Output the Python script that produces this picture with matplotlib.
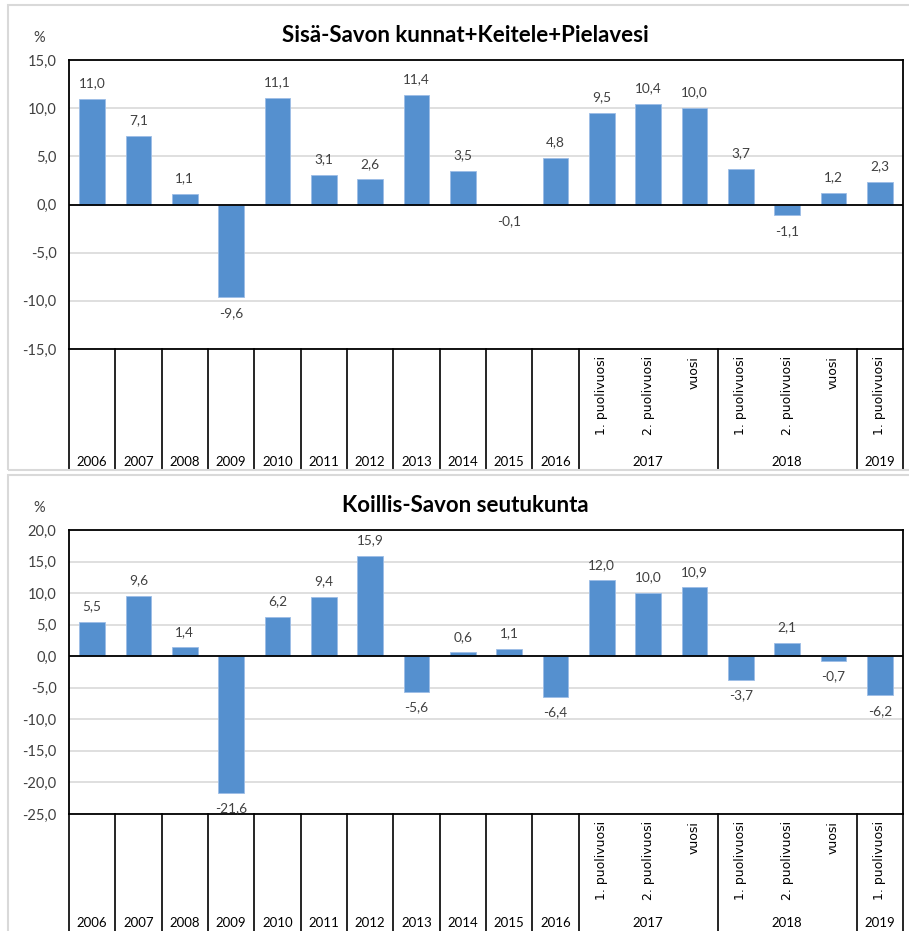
import matplotlib.pyplot as plt
from matplotlib.patches import Rectangle
from matplotlib.ticker import FuncFormatter

# categories
years = ["2006", "2007", "2008", "2009", "2010", "2011", "2012", "2013",
         "2014", "2015", "2016"]
sub_labels = ["1. puolivuosi", "2. puolivuosi", "vuosi",
              "1. puolivuosi", "2. puolivuosi", "vuosi",
              "1. puolivuosi"]
groups = ["2017", "2018", "2019"]
group_sizes = [3, 3, 1]

# series values (%)
sisa_savo = [11.0, 7.1, 1.1, -9.6, 11.1, 3.1, 2.6, 11.4, 3.5, -0.1, 4.8,
             9.5, 10.4, 10.0, 3.7, -1.1, 1.2, 2.3]
koillis_savo = [5.5, 9.6, 1.4, -21.6, 6.2, 9.4, 15.9, -5.6, 0.6, 1.1, -6.4,
                12.0, 10.0, 10.9, -3.7, 2.1, -0.7, -6.2]

W, H = 909, 931
BAR = "#5590CF"
TXT = "#404040"
plt.rcParams['font.family'] = ['Lato', 'DejaVu Sans']

fig = plt.figure(figsize=(W / 100, H / 100), dpi=100)


def rect(x0, y0, x1, y1):
    # pixel box (top-left origin) -> figure fraction
    return [x0 / W, 1 - y1 / H, (x1 - x0) / W, (y1 - y0) / H]


def comma(v, pos=None):
    return f"{v:.1f}".replace(".", ",")


def draw_panel(values, title, ymin, ymax, box, plot_top, plot_bot, cat_bot):
    # light grey frame around the whole chart
    fig.patches.append(Rectangle((box[0] / W, 1 - box[3] / H),
                                 (box[2] - box[0]) / W, (box[3] - box[1]) / H,
                                 transform=fig.transFigure, fill=False,
                                 edgecolor="#D9D9D9", lw=1.5))
    n = len(values)
    ax = fig.add_axes(rect(69, plot_top, 903, plot_bot))
    x = list(range(n))
    ax.bar(x, values, width=0.56, color=BAR, edgecolor="#9DBDE6", lw=0.6,
           zorder=3)
    ax.set_xlim(-0.5, n - 0.5)
    ax.set_ylim(ymin, ymax)
    ax.set_yticks(range(ymin, ymax + 1, 5))
    ax.yaxis.set_major_formatter(FuncFormatter(comma))
    ax.tick_params(axis='y', length=0, pad=9, labelsize=10.5, labelcolor=TXT)
    ax.set_xticks([])
    ax.grid(axis='y', color="#D9D9D9", lw=1.2, zorder=0)
    ax.axhline(0, color="black", lw=1.3, zorder=4)
    for s in ax.spines.values():
        s.set_color("black")
        s.set_linewidth(1.3)
    for xi, v in zip(x, values):
        if v >= 0:
            ax.annotate(comma(v), (xi, v), xytext=(0, 7), textcoords="offset points",
                        ha="center", va="bottom", fontsize=9.8, color=TXT)
        else:
            ax.annotate(comma(v), (xi, v), xytext=(0, -7), textcoords="offset points",
                        ha="center", va="top", fontsize=9.8, color=TXT)
    fig.text(465 / W, 1 - (plot_top - 25) / H, title, ha="center", va="center",
             fontsize=16, fontweight="bold", color="black")
    fig.text(39 / W, 1 - (plot_top - 22) / H, "%", ha="center", va="center",
             fontsize=10.5, color=TXT)

    # category table under the plot
    cax = fig.add_axes(rect(69, plot_bot, 903, cat_bot))
    cax.set_xlim(-0.5, n - 0.5)
    cax.set_ylim(0, 1)
    cax.axis("off")
    cax.patch.set_alpha(0)
    edges = [i - 0.5 for i in range(len(years) + 1)]
    pos = len(years)
    for g, size in zip(groups, group_sizes):
        cax.text(pos + (size - 1) / 2, 0.07, g, ha="center", va="center",
                 fontsize=9.5, color="black")
        pos += size
        edges.append(pos - 0.5)
    for e in edges:
        cax.plot([e, e], [0, 1], color="black", lw=1.2, clip_on=False)
    for i, y in enumerate(years):
        cax.text(i, 0.07, y, ha="center", va="center", fontsize=9.5,
                 color="black")
    for i, lab in enumerate(sub_labels):
        cax.text(len(years) + i, 0.94, lab, rotation=90, ha="center", va="top",
                 fontsize=9, color="black", family="DejaVu Sans")


draw_panel(sisa_savo, "Sisä-Savon kunnat+Keitele+Pielavesi", -15, 15,
           (8, 5, 912, 470), 60, 349, 470)
draw_panel(koillis_savo, "Koillis-Savon seutukunta", -25, 20,
           (8, 475, 912, 935), 530, 814, 931)

fig.savefig("out.png", dpi=100)
